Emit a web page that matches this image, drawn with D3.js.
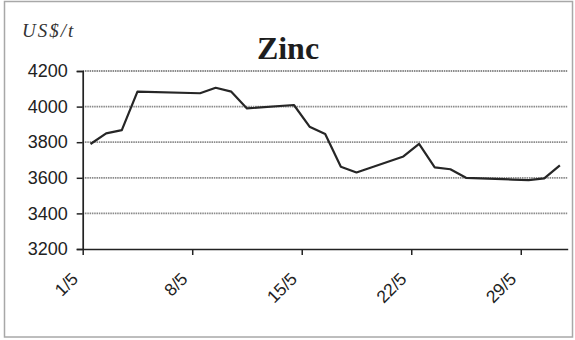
<!DOCTYPE html>
<html>
<head>
<meta charset="utf-8">
<script src="https://cdn.jsdelivr.net/npm/d3@7/dist/d3.min.js"></script>
<style>
  html, body { margin: 0; padding: 0; background: #fff; }
  svg { display: block; }
</style>
</head>
<body>
<svg id="chart" width="575" height="340"></svg>
<script>
// Zinc price, May (day of month) in US$/t
const days   = [1, 2, 3, 4, 8, 9, 10, 11, 14, 15, 16, 17, 18, 21, 22, 23, 24, 25, 28, 29, 30, 31];
const prices = [3790, 3850, 3868, 4084, 4075, 4106, 4084, 3990, 4009, 3887, 3846, 3662, 3630, 3720, 3790, 3659, 3648, 3600, 3590, 3587, 3597, 3670];

const yTicks = [3200, 3400, 3600, 3800, 4000, 4200];
const xTickDays = [1, 8, 15, 22, 29];
const xTickLabels = ["1/5", "8/5", "15/5", "22/5", "29/5"];

const svg = d3.select("#chart");
const plot = { left: 82.7, right: 567.7, top: 71, bottom: 249 };

// Each day occupies one slot; tick marks sit at the start of a slot,
// data points at its centre.
const x = d3.scaleLinear().domain([1, 32]).range([plot.left, plot.right]);
const y = d3.scaleLinear().domain([3200, 4200]).range([plot.bottom, plot.top]);

// outer frame
svg.append("rect")
  .attr("x", 4.5).attr("y", 1.5)
  .attr("width", 568).attr("height", 335.5)
  .attr("fill", "#fff")
  .attr("stroke", "#a8a8a8")
  .attr("stroke-width", 1.5);

// horizontal gridlines
svg.append("g")
  .selectAll("line")
  .data(yTicks.filter(v => v > 3200))
  .join("line")
  .attr("x1", plot.left).attr("x2", plot.right)
  .attr("y1", d => y(d)).attr("y2", d => y(d))
  .attr("stroke", "#8a8a8a")
  .attr("stroke-width", 1.8)
  .attr("stroke-dasharray", "1.5,0.8");

// y axis
const yAxis = d3.axisLeft(y).tickValues(yTicks).tickSize(6).tickPadding(9).tickFormat(d3.format("d"));
const gy = svg.append("g").attr("transform", `translate(${plot.left},0)`).call(yAxis);
gy.select(".domain").attr("stroke", "#222").attr("stroke-width", 1.7);
gy.selectAll(".tick line").attr("stroke", "#222").attr("stroke-width", 1.5);
gy.selectAll(".tick text")
  .attr("font-family", "'Liberation Sans', Arial, sans-serif")
  .attr("font-size", 18)
  .attr("fill", "#222");

// x axis
const xAxis = d3.axisBottom(x)
  .tickValues(xTickDays)
  .tickSize(6)
  .tickSizeOuter(0)
  .tickFormat((d, i) => xTickLabels[i]);
const gx = svg.append("g").attr("transform", `translate(0,${plot.bottom})`).call(xAxis);
gx.select(".domain").attr("stroke", "#222").attr("stroke-width", 1.7);
gx.selectAll(".tick line").attr("stroke", "#222").attr("stroke-width", 1.5);
gx.selectAll(".tick text")
  .attr("font-family", "'Liberation Sans', Arial, sans-serif")
  .attr("font-size", 17.5)
  .attr("fill", "#222")
  .attr("text-anchor", "end")
  .attr("dy", 0)
  .attr("y", 0)
  .attr("transform", "translate(-4,31) rotate(-45)");

// price line
const line = d3.line()
  .x((d, i) => x(days[i] + 0.5))
  .y(d => y(d));
svg.append("path")
  .datum(prices)
  .attr("d", line)
  .attr("fill", "none")
  .attr("stroke", "#262626")
  .attr("stroke-width", 2.2)
  .attr("stroke-linejoin", "round");

// title and unit
svg.append("text")
  .attr("x", 288).attr("y", 59)
  .attr("text-anchor", "middle")
  .attr("font-family", "'Liberation Serif', 'Times New Roman', serif")
  .attr("font-weight", "bold")
  .attr("font-size", 32)
  .attr("fill", "#1e1e1e")
  .text("Zinc");

svg.append("text")
  .attr("x", 22).attr("y", 37)
  .attr("font-family", "'Liberation Serif', 'Times New Roman', serif")
  .attr("font-style", "italic")
  .attr("font-size", 19)
  .attr("letter-spacing", 2)
  .attr("fill", "#333")
  .text("US$/t");
</script>
</body>
</html>
